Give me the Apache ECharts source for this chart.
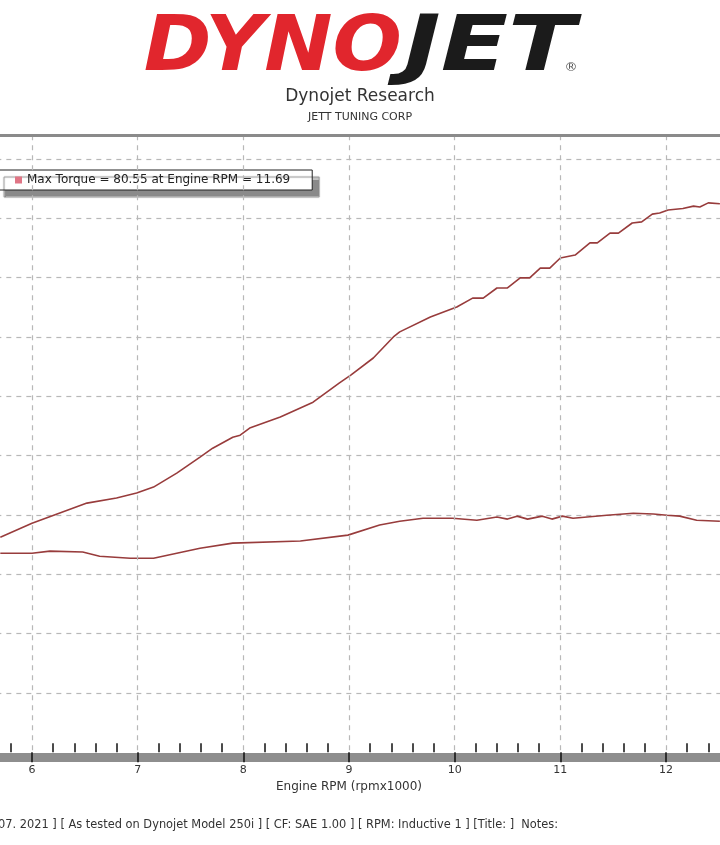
<!DOCTYPE html>
<html>
<head>
<meta charset="utf-8">
<script src="https://cdn.jsdelivr.net/npm/echarts@6/dist/echarts.min.js"></script>
<style>
html,body{margin:0;padding:0;background:#fff;}
#chart{width:720px;height:845px;}
</style>
</head>
<body>
<div id="chart"></div>
<script>
// ---- Data ----
const xTicks = [5, 6, 7, 8, 9, 10, 11, 12, 13]; // engine rpm x1000 (major ticks)

const upperRpm = [5.70, 6.00, 6.52, 6.80, 6.99, 7.15, 7.37, 7.59, 7.71, 7.90, 7.97, 8.06, 8.35, 8.66, 8.91, 9.02, 9.23, 9.42, 9.48, 9.77, 10.02, 10.17, 10.27, 10.40, 10.50, 10.62, 10.71, 10.81, 10.90, 11.00, 11.14, 11.28, 11.35, 11.47, 11.55, 11.68, 11.77, 11.87, 11.94, 12.02, 12.16, 12.26, 12.32, 12.40, 12.51];
const upperVal = [72.5, 77.2, 84.0, 85.7, 87.4, 89.4, 94.1, 99.5, 102.5, 106.2, 106.9, 109.3, 113.0, 118.0, 124.5, 127.2, 132.9, 140.0, 141.7, 146.7, 150.1, 153.1, 153.1, 156.5, 156.5, 159.9, 159.9, 163.2, 163.2, 166.6, 167.6, 171.7, 171.7, 175.0, 175.0, 178.4, 178.8, 181.4, 181.8, 182.8, 183.3, 184.1, 183.8, 185.2, 184.9];

const torqueRpm = [5.70, 6.00, 6.17, 6.48, 6.64, 6.93, 7.15, 7.37, 7.59, 7.90, 8.54, 8.99, 9.29, 9.48, 9.70, 9.98, 10.21, 10.40, 10.50, 10.59, 10.69, 10.83, 10.92, 11.02, 11.12, 11.44, 11.69, 11.88, 12.01, 12.13, 12.29, 12.51];
const torqueVal = [67.1, 67.1, 67.8, 67.5, 66.1, 65.4, 65.4, 67.1, 68.8, 70.5, 71.2, 73.2, 76.6, 77.9, 78.9, 78.9, 78.2, 79.3, 78.6, 79.6, 78.6, 79.6, 78.6, 79.6, 78.9, 79.9, 80.55, 80.3, 79.9, 79.6, 78.2, 77.9];

const maxTorque = 80.55;
const maxTorqueRpm = 11.69;

const titleText = 'Dynojet Research';
const subtitleText = 'JETT TUNING CORP';
const footerText = '07. 2021 ] [ As tested on Dynojet Model 250i ] [ CF: SAE 1.00 ] [ RPM: Inductive 1 ] [Title: ]  Notes:';
const xAxisName = 'Engine RPM (rpmx1000)';

// ---- Chart ----
const chart = echarts.init(document.getElementById('chart'), null, {renderer: 'canvas'});
const FONT = '"DejaVu Sans", Verdana, sans-serif';
const lineColor = '#983c3c';
const gridLine = {show: true, lineStyle: {color: '#b8b8b8', width: 1.2, type: [5, 5]}};

const zip = (a, b) => a.map((v, i) => [v, b[i]]);

chart.setOption({
  animation: false,
  backgroundColor: '#ffffff',
  grid: {left: -73.67, right: -51.67, top: 135.2, bottom: 92.7, containLabel: false, outerBoundsMode: 'none'},
  legend: {
    data: ['Torque'],
    left: -3, top: 170,
    padding: [4, 22, 4, 18],
    itemWidth: 7, itemHeight: 7, icon: 'rect',
    itemStyle: {color: '#e07585'},
    backgroundColor: '#ffffff',
    borderColor: '#222', borderWidth: 1,
    shadowColor: '#8a8a8a', shadowBlur: 1, shadowOffsetX: 7, shadowOffsetY: 7,
    textStyle: {fontFamily: FONT, fontSize: 12, color: '#222'},
    formatter: () => 'Max Torque = ' + maxTorque + ' at Engine RPM = ' + maxTorqueRpm,
    selectedMode: false
  },
  xAxis: [
    { // ticks + vertical grid
      type: 'value', min: xTicks[0], max: xTicks[xTicks.length - 1], interval: 1,
      position: 'bottom', z: 5,
      axisLine: {show: false},
      axisTick: {show: true, inside: true, length: -10, lineStyle: {color: '#111', width: 1.5}},
      minorTick: {show: true, splitNumber: 5, length: 9, lineStyle: {color: '#111', width: 1.5}},
      axisLabel: {show: false},
      splitLine: gridLine
    },
    { // gray band + labels + name
      type: 'value', min: xTicks[0], max: xTicks[xTicks.length - 1], interval: 1,
      position: 'bottom', offset: 4.5, z: 1,
      axisLine: {show: true, lineStyle: {color: '#8e8e8e', width: 9}},
      axisTick: {show: false},
      splitLine: {show: false},
      axisLabel: {show: true, margin: 8, fontSize: 11, color: '#333', fontFamily: FONT},
      name: xAxisName, nameLocation: 'middle', nameGap: 24, nameMoveOverlap: false,
      nameTextStyle: {fontSize: 12, color: '#333', fontFamily: FONT}
    },
    { // top frame
      type: 'value', min: xTicks[0], max: xTicks[xTicks.length - 1], position: 'top', z: 6,
      axisLine: {show: true, lineStyle: {color: '#8a8a8a', width: 3}},
      axisTick: {show: false}, axisLabel: {show: false}, splitLine: {show: false}
    }
  ],
  yAxis: {
    type: 'value', min: 0, max: 208, interval: 20,
    axisLine: {show: false}, axisTick: {show: false}, axisLabel: {show: false},
    splitLine: Object.assign({showMinLine: false}, gridLine)
  },
  series: [
    {
      name: 'Power', type: 'line', xAxisIndex: 0, showSymbol: false, z: 3,
      lineStyle: {color: lineColor, width: 1.6}, itemStyle: {color: lineColor},
      data: zip(upperRpm, upperVal)
    },
    {
      name: 'Torque', type: 'line', xAxisIndex: 0, showSymbol: false, z: 3,
      lineStyle: {color: lineColor, width: 1.6}, itemStyle: {color: lineColor},
      data: zip(torqueRpm, torqueVal)
    }
  ],
  graphic: [
    {type: 'text', x: 402, y: 50, scaleX: 1.06, z: 10,
     style: {text: 'DYNO', fill: '#e1262d', fontFamily: FONT, fontSize: 77, fontWeight: 'bold', fontStyle: 'italic', textAlign: 'right', textVerticalAlign: 'middle'}},
    {type: 'text', x: 404, y: 50, scaleX: 1.28, z: 10,
     style: {text: 'JET', fill: '#1b1b1b', fontFamily: FONT, fontSize: 77, fontWeight: 'bold', fontStyle: 'italic', textAlign: 'left', textVerticalAlign: 'middle'}},
    {type: 'text', x: 571, y: 68, z: 10,
     style: {text: '®', fill: '#555', fontFamily: FONT, fontSize: 13, textAlign: 'center', textVerticalAlign: 'middle'}},
    {type: 'text', x: 360, y: 97, z: 10,
     style: {text: titleText, fill: '#333', fontFamily: FONT, fontSize: 17, textAlign: 'center', textVerticalAlign: 'middle'}},
    {type: 'text', x: 360, y: 117, z: 10,
     style: {text: subtitleText, fill: '#333', fontFamily: FONT, fontSize: 11, textAlign: 'center', textVerticalAlign: 'middle'}},
    {type: 'text', x: -2, y: 825, z: 10,
     style: {text: footerText, fill: '#333', fontFamily: FONT, fontSize: 11.4, textAlign: 'left', textVerticalAlign: 'middle'}}
  ]
});
</script>
</body>
</html>
